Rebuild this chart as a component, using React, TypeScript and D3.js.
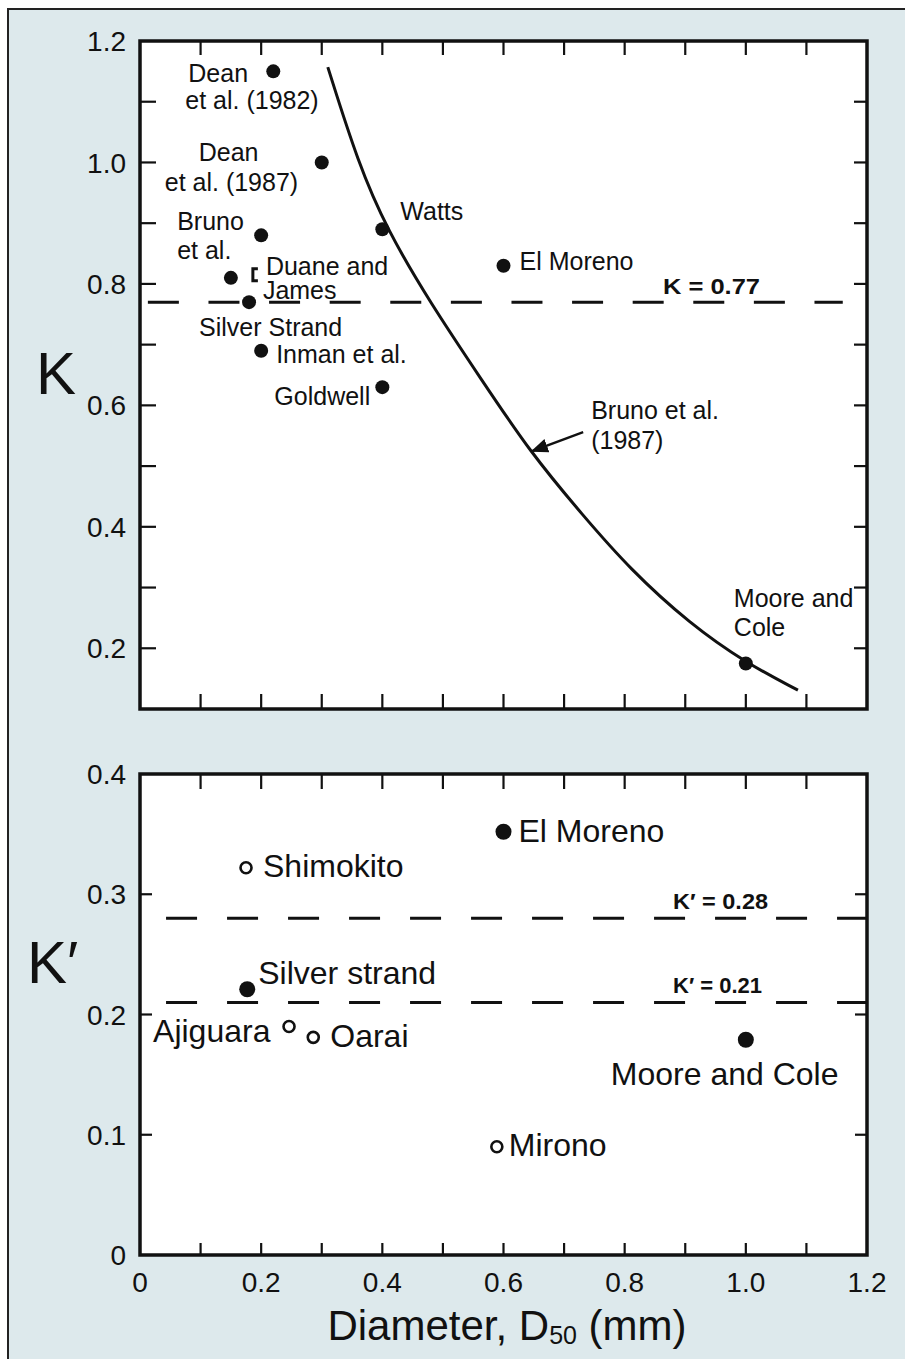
import React from 'react';
import * as d3 from 'd3';

// K values (upper panel)
const kNames = ['Dean et al. (1982)', 'Dean et al. (1987)', 'Bruno et al.', 'Watts', 'Duane and James',
  'Silver Strand', 'Inman et al.', 'Goldwell', 'El Moreno', 'Moore and Cole'];
const kDiam = [0.22, 0.30, 0.20, 0.40, 0.15, 0.18, 0.20, 0.40, 0.60, 1.0];
const kValues = [1.15, 1.0, 0.88, 0.89, 0.81, 0.77, 0.69, 0.63, 0.83, 0.175];

// Bruno et al. (1987) curve
const curveDiam = [0.31, 0.36, 0.408, 0.479, 0.564, 0.644, 0.730, 0.809, 0.908, 1.0, 1.086];
const curveK = [1.157, 0.999, 0.889, 0.769, 0.642, 0.523, 0.420, 0.330, 0.240, 0.176, 0.131];

// K' values (lower panel)
const kpNames = ['Shimokito', 'El Moreno', 'Silver strand', 'Ajiguara', 'Oarai', 'Mirono', 'Moore and Cole'];
const kpDiam = [0.175, 0.60, 0.177, 0.246, 0.286, 0.589, 1.0];
const kpValues = [0.322, 0.352, 0.221, 0.19, 0.181, 0.09, 0.179];
const kpOpen = [true, false, false, true, true, true, false];

const kTickLabels = [0.2, 0.4, 0.6, 0.8, 1.0, 1.2];
const kpTickLabels = [0, 0.1, 0.2, 0.3, 0.4];
const xTickLabels = [0, 0.2, 0.4, 0.6, 0.8, 1.0, 1.2];

// label placement (pixel offsets from the point)
const kLabelLayout = [
  [['Dean', -85, 11], ['et al. (1982)', -88, 38]],
  [['Dean', -123, -1], ['et al. (1987)', -157, 29]],
  [['Bruno', -84, -5], ['et al.', -84, 24]],
  [['Watts', 18, -9]],
  [['Duane and', 35, -3], ['James', 32, 21]],
  [['Silver Strand', -50, 34]],
  [['Inman et al.', 15, 12]],
  [['Goldwell', -108, 18]],
  [['El Moreno', 16, 4]],
  [['Moore and', -12, -56], ['Cole', -12, -27]],
];
const kpLabelLayout = [[17, 9], [15, 10], [11, -5], [-136, 15], [17, 10], [12, 9], [-135, 45]];

const FONT = '"Liberation Sans", Arial, Helvetica, sans-serif';
const INK = '#111';

const x = d3.scaleLinear().domain([0, 1.2]).range([140, 867]);
const yK = d3.scaleLinear().domain([0.1, 1.2]).range([709, 41]);
const yKp = d3.scaleLinear().domain([0, 0.4]).range([1255, 774]);

const xMinor = d3.range(1, 12).map(i => i / 10);
const kMinor = d3.range(2, 12).map(i => i / 10);
const kpMinor = [0.1, 0.2, 0.3];

const fmt = (v: number) => (v === 0 ? '0' : v.toFixed(1));

const App = () => {
  const curvePath = d3.line<number>()
    .x((_, i) => x(curveDiam[i]))
    .y(d => yK(d))
    .curve(d3.curveBasis)(curveK) || '';

  const arrowTipX = x(0.644);
  const arrowTipY = yK(0.523);

  const frameTicks = (yScale: d3.ScaleLinear<number, number>, yVals: number[], top: number, bottom: number,
    lenTop: number, lenBottom: number, lenLeft: number, lenRight: number) => (
    <g stroke={INK} strokeWidth={2.2}>
      {xMinor.map(v => <line key={'t' + v} x1={x(v)} x2={x(v)} y1={top} y2={top + lenTop} />)}
      {xMinor.map(v => <line key={'b' + v} x1={x(v)} x2={x(v)} y1={bottom} y2={bottom - lenBottom} />)}
      {yVals.map(v => <line key={'l' + v} x1={x(0)} x2={x(0) + lenLeft} y1={yScale(v)} y2={yScale(v)} />)}
      {yVals.map(v => <line key={'r' + v} x1={x(1.2)} x2={x(1.2) - lenRight} y1={yScale(v)} y2={yScale(v)} />)}
    </g>
  );

  return (
    <svg width={905} height={1359} style={{ position: 'absolute', left: 0, top: 0, fontFamily: FONT }}>
      <rect x={0} y={0} width={905} height={1359} fill="#fff" />
      <rect x={8} y={9} width={910} height={1360} fill="#dde9ec" stroke="#222" strokeWidth={2} />

      {/* upper panel */}
      <rect x={x(0)} y={yK(1.2)} width={x(1.2) - x(0)} height={yK(0.1) - yK(1.2)} fill="#fff" />
      {frameTicks(yK, kMinor, yK(1.2), yK(0.1), 14, 15, 16, 13)}
      <line x1={x(0.013)} x2={x(1.160)} y1={yK(0.77)} y2={yK(0.77)} stroke={INK} strokeWidth={3}
        strokeDasharray="31 29.6" />
      <text x={663} y={yK(0.77) - 8} fontSize={22} fontWeight="bold" fill={INK} textLength={97}
        lengthAdjust="spacingAndGlyphs">K = 0.77</text>
      <path d={curvePath} fill="none" stroke={INK} strokeWidth={3} />
      <defs>
        <marker id="arrow" viewBox="0 0 10 10" refX={9} refY={5} markerWidth={7} markerHeight={7} orient="auto">
          <path d="M0,1 L10,5 L0,9 Z" fill={INK} />
        </marker>
      </defs>
      <line x1={arrowTipX + 53} y1={arrowTipY - 20} x2={arrowTipX + 2} y2={arrowTipY - 1} stroke={INK}
        strokeWidth={2.5} markerEnd="url(#arrow)" />
      <text x={arrowTipX + 61} y={arrowTipY - 33} fontSize={25} fill={INK}>Bruno et al.</text>
      <text x={arrowTipX + 61} y={arrowTipY - 3} fontSize={25} fill={INK}>(1987)</text>
      {kValues.map((v, i) => (
        <g key={kNames[i]}>
          <circle cx={x(kDiam[i])} cy={yK(v)} r={7} fill={INK} />
          {kLabelLayout[i].map(([t, dx, dy]) => (
            <text key={t as string} x={x(kDiam[i]) + (dx as number)} y={yK(v) + (dy as number)} fontSize={25}
              fill={INK}>{t}</text>
          ))}
        </g>
      ))}
      <path d={`M${x(0.15) + 27},${yK(0.81) - 9} h-5 v12 h5`} fill="none" stroke={INK} strokeWidth={3} />
      <rect x={x(0)} y={yK(1.2)} width={x(1.2) - x(0)} height={yK(0.1) - yK(1.2)} fill="none" stroke={INK}
        strokeWidth={3.5} />
      {kTickLabels.map(v => (
        <text key={v} x={126} y={yK(v)} dy="0.36em" textAnchor="end" fontSize={28} fill={INK}>{fmt(v)}</text>
      ))}
      <text x={36} y={394} fontSize={60} fill={INK}>K</text>

      {/* lower panel */}
      <rect x={x(0)} y={yKp(0.4)} width={x(1.2) - x(0)} height={yKp(0) - yKp(0.4)} fill="#fff" />
      {frameTicks(yKp, kpMinor, yKp(0.4), yKp(0), 15, 12, 12, 12)}
      {[0.28, 0.21].map(v => (
        <g key={v}>
          <line x1={x(0.043)} x2={x(1.2)} y1={yKp(v)} y2={yKp(v)} stroke={INK} strokeWidth={3}
            strokeDasharray="31 30" />
          <text x={673} y={yKp(v) - 9} fontSize={22} fontWeight="bold" fill={INK} textLength={v === 0.28 ? 95 : 89}
            lengthAdjust="spacingAndGlyphs">{`K′ = ${v.toFixed(2)}`}</text>
        </g>
      ))}
      {kpValues.map((v, i) => (
        <g key={kpNames[i]}>
          {kpOpen[i]
            ? <circle cx={x(kpDiam[i])} cy={yKp(v)} r={5.5} fill="#fff" stroke={INK} strokeWidth={2.6} />
            : <circle cx={x(kpDiam[i])} cy={yKp(v)} r={8} fill={INK} />}
          <text x={x(kpDiam[i]) + kpLabelLayout[i][0]} y={yKp(v) + kpLabelLayout[i][1]} fontSize={32}
            fill={INK}>{kpNames[i]}</text>
        </g>
      ))}
      <rect x={x(0)} y={yKp(0.4)} width={x(1.2) - x(0)} height={yKp(0) - yKp(0.4)} fill="none" stroke={INK}
        strokeWidth={3.5} />
      {kpTickLabels.map(v => (
        <text key={v} x={126} y={yKp(v)} dy="0.36em" textAnchor="end" fontSize={28} fill={INK}>{fmt(v)}</text>
      ))}
      <text x={27} y={983} fontSize={60} fill={INK}>K′</text>

      {/* x axis */}
      {xTickLabels.map(v => (
        <text key={v} x={x(v)} y={1292} textAnchor="middle" fontSize={28} fill={INK}>{fmt(v)}</text>
      ))}
      <text x={507} y={1340} textAnchor="middle" fontSize={42} fill={INK}>
        Diameter, D<tspan fontSize={25} dy={4}>50</tspan><tspan dy={-4}> (mm)</tspan>
      </text>
    </svg>
  );
};

export default App;
